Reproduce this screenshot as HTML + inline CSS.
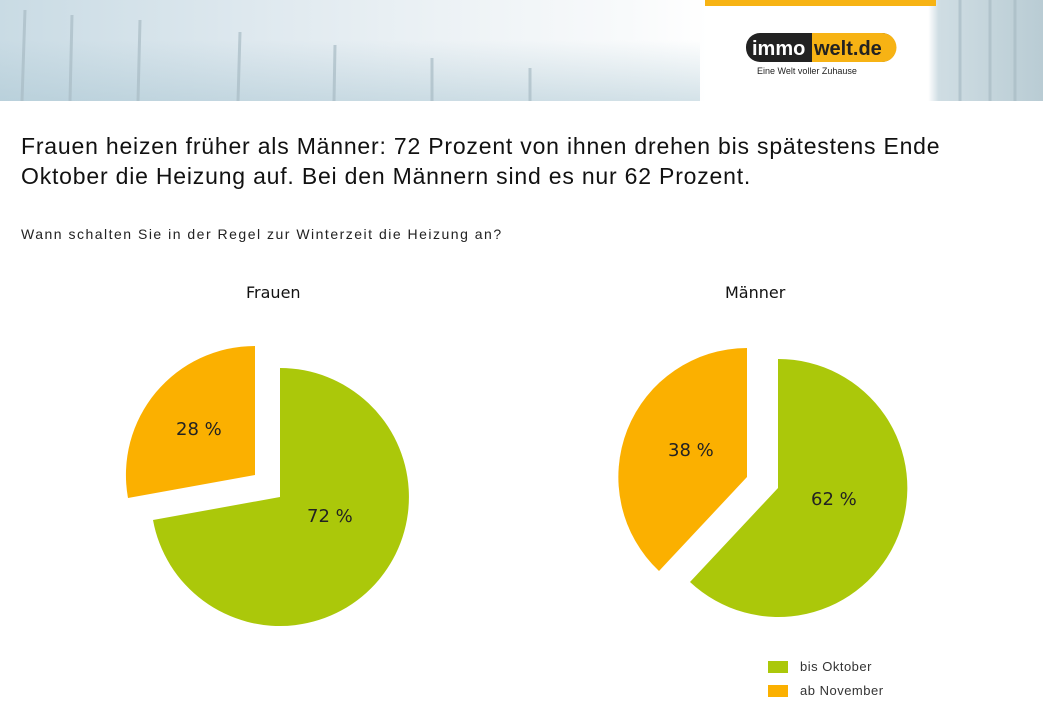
<!DOCTYPE html>
<html><head><meta charset="utf-8"><style>
body{margin:0;width:1043px;height:701px;background:#fff;overflow:hidden;position:relative;font-family:"Liberation Sans",sans-serif}
.t{position:absolute;white-space:nowrap}
</style></head><body>
<div style="position:absolute;left:0;top:0;width:1043px;height:101px;background:linear-gradient(90deg,#c9dbe4 0%,#dfe9ef 25%,#eef3f6 45%,#f8fafb 60%,#fff 68%,#fff 89%,#cfdde3 90%,#b9ccd4 100%)"></div>
<div style="position:absolute;left:0;top:40px;width:700px;height:61px;background:linear-gradient(180deg,rgba(180,205,215,0),rgba(170,198,210,0.5));"></div>
<svg style="position:absolute;left:0;top:0" width="1043" height="101">
<g stroke="#a9bcc5" stroke-width="3" opacity="0.7">
<line x1="25" y1="10" x2="22" y2="101"/><line x1="72" y1="15" x2="70" y2="101"/><line x1="140" y1="20" x2="138" y2="101"/><line x1="240" y1="32" x2="238" y2="101"/><line x1="335" y1="45" x2="334" y2="101"/><line x1="432" y1="58" x2="432" y2="101"/><line x1="530" y1="68" x2="530" y2="101"/>
<line x1="960" y1="0" x2="960" y2="101"/><line x1="990" y1="0" x2="990" y2="101"/><line x1="1015" y1="0" x2="1015" y2="101"/></g>
<rect x="705" y="0" width="231" height="6" fill="#f7b314"/>
<rect x="746" y="33" width="150" height="29" rx="14" fill="#222"/>
<path d="M812 33 H882 a14 14 0 0 1 0 29 H812 Z" fill="#f7b314"/>
<text x="752" y="55" font-size="20" font-weight="bold" fill="#fff" font-family="Liberation Sans,sans-serif">immo</text>
<text x="814" y="55" font-size="20" font-weight="bold" fill="#222" font-family="Liberation Sans,sans-serif">welt.de</text>
<text x="757" y="74" font-size="9" fill="#222" font-family="Liberation Sans,sans-serif">Eine Welt voller Zuhause</text>
</svg>
<div class="t" style="left:21px;top:131px;font-size:23px;letter-spacing:0.8px;line-height:30px;color:#111">Frauen heizen früher als Männer: 72 Prozent von ihnen drehen bis spätestens Ende<br>Oktober die Heizung auf. Bei den Männern sind es nur 62 Prozent.</div>
<div class="t" style="left:21px;top:226px;font-size:14px;letter-spacing:1.5px;color:#222">Wann schalten Sie in der Regel zur Winterzeit die Heizung an?</div>
<div class="t" style="left:246px;top:283px;font-size:16px;font-family:'DejaVu Sans',sans-serif;color:#111">Frauen</div>
<div class="t" style="left:725px;top:283px;font-size:16px;font-family:'DejaVu Sans',sans-serif;color:#111">Männer</div>
<svg style="position:absolute;left:0;top:0" width="1043" height="701" font-family="DejaVu Sans,sans-serif">
<path d="M280 497 L280 368 A129 129 0 1 1 153 520 Z" fill="#abc80a"/>
<path d="M255 475 L128 498 A129 129 0 0 1 255 346 Z" fill="#fbb000"/>
<path d="M778 488 L778 359 A129 129 0 1 1 690 582 Z" fill="#abc80a"/>
<path d="M747 477 L659 571 A129 129 0 0 1 747 348 Z" fill="#fbb000"/>
<text x="176" y="435" font-size="18" fill="#222">28 %</text>
<text x="307" y="522" font-size="18" fill="#222">72 %</text>
<text x="668" y="456" font-size="18" fill="#222">38 %</text>
<text x="811" y="505" font-size="18" fill="#222">62 %</text>
<rect x="768" y="661" width="20" height="12" fill="#abc80a"/>
<rect x="768" y="685" width="20" height="12" fill="#fbb000"/>
<text x="800" y="671" font-size="13" letter-spacing="0.5" fill="#333" font-family="Liberation Sans,sans-serif">bis Oktober</text>
<text x="800" y="695" font-size="13" letter-spacing="0.5" fill="#333" font-family="Liberation Sans,sans-serif">ab November</text>
</svg>
</body></html>
